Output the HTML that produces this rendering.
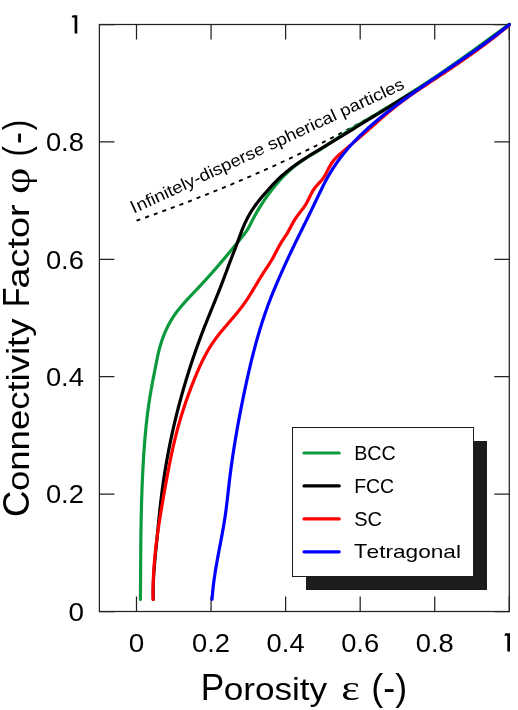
<!DOCTYPE html>
<html><head><meta charset="utf-8"><title>chart</title>
<style>
html,body{margin:0;padding:0;background:#fff;}
body{width:518px;height:710px;position:relative;overflow:hidden;}
.t{font-family:"Liberation Sans",sans-serif;fill:#000;}
.s{font-family:"Liberation Serif",serif;fill:#000;}
</style></head><body>
<svg width="518" height="710" viewBox="0 0 518 710" style="position:absolute;left:0;top:0;will-change:transform">
<rect width="518" height="710" fill="#fff"/>
<g stroke="#222" stroke-width="1.25" fill="none" stroke-linecap="butt">
<rect x="99.40" y="24.50" width="409.90" height="587.00"/>
<path d="M136.50,24.50 v15 M136.50,611.50 v-15"/>
<path d="M211.06,24.50 v15 M211.06,611.50 v-15"/>
<path d="M285.62,24.50 v15 M285.62,611.50 v-15"/>
<path d="M360.18,24.50 v15 M360.18,611.50 v-15"/>
<path d="M434.74,24.50 v15 M434.74,611.50 v-15"/>
<path d="M509.30,24.50 v15 M509.30,611.50 v-15"/>
<path d="M99.40,611.50 h15 M509.30,611.50 h-15"/>
<path d="M99.40,494.10 h15 M509.30,494.10 h-15"/>
<path d="M99.40,376.70 h15 M509.30,376.70 h-15"/>
<path d="M99.40,259.30 h15 M509.30,259.30 h-15"/>
<path d="M99.40,141.90 h15 M509.30,141.90 h-15"/>
<path d="M99.40,24.50 h15 M509.30,24.50 h-15"/>
</g>
<path d="M136.50,220.17 C139.61,219.06 148.93,215.78 155.14,213.53 C161.35,211.28 167.57,209.00 173.78,206.67 C179.99,204.35 186.21,201.98 192.42,199.57 C198.63,197.16 204.85,194.71 211.06,192.21 C217.27,189.72 223.49,187.18 229.70,184.59 C235.91,182.00 242.13,179.37 248.34,176.69 C254.55,174.00 260.77,171.27 266.98,168.48 C273.19,165.69 279.41,162.86 285.62,159.96 C291.83,157.07 298.05,154.12 304.26,151.11 C310.47,148.10 316.69,145.03 322.90,141.90 C329.11,138.77 335.33,135.58 341.54,132.32 C347.75,129.06 353.97,125.73 360.18,122.33 C366.39,118.93 372.61,115.47 378.82,111.93 C385.03,108.38 391.25,104.77 397.46,101.07 C403.67,97.36 409.89,93.59 416.10,89.72 C422.31,85.86 428.53,81.91 434.74,77.86 C440.95,73.82 447.17,69.69 453.38,65.45 C459.59,61.22 465.81,56.89 472.02,52.45 C478.23,48.01 484.45,43.48 490.66,38.82 C496.87,34.16 506.19,26.89 509.30,24.50" fill="none" stroke="#000" stroke-width="1.9" stroke-dasharray="4.05 5.1" transform="translate(0,0.5)"/>
<path d="M140.42,599.50 L140.43,598.02 L140.44,596.54 L140.45,595.06 L140.46,593.58 L140.47,592.10 L140.48,590.62 L140.49,589.14 L140.50,587.66 L140.51,586.18 L140.52,584.70 L140.53,583.21 L140.54,581.73 L140.55,580.25 L140.56,578.77 L140.57,577.29 L140.58,575.81 L140.59,574.33 L140.60,572.85 L140.61,571.37 L140.61,569.89 L140.62,568.41 L140.63,566.93 L140.64,565.45 L140.65,563.96 L140.66,562.48 L140.67,561.00 L140.68,559.52 L140.69,558.04 L140.71,556.56 L140.72,555.08 L140.73,553.60 L140.74,552.12 L140.75,550.64 L140.77,549.16 L140.78,547.68 L140.80,546.19 L140.81,544.71 L140.83,543.23 L140.84,541.75 L140.86,540.27 L140.88,538.79 L140.89,537.31 L140.91,535.83 L140.93,534.35 L140.95,532.87 L140.97,531.39 L140.99,529.91 L141.02,528.43 L141.04,526.95 L141.06,525.47 L141.09,523.98 L141.11,522.50 L141.14,521.02 L141.17,519.54 L141.20,518.06 L141.23,516.58 L141.26,515.10 L141.29,513.62 L141.33,512.14 L141.36,510.66 L141.40,509.18 L141.43,507.70 L141.47,506.22 L141.51,504.74 L141.55,503.26 L141.59,501.78 L141.63,500.30 L141.68,498.82 L141.72,497.34 L141.77,495.86 L141.82,494.38 L141.87,492.90 L141.92,491.42 L141.98,489.94 L142.03,488.47 L142.09,486.99 L142.14,485.51 L142.20,484.03 L142.26,482.55 L142.33,481.07 L142.39,479.59 L142.46,478.11 L142.52,476.63 L142.59,475.15 L142.67,473.68 L142.74,472.20 L142.81,470.72 L142.89,469.24 L142.97,467.76 L143.05,466.28 L143.13,464.81 L143.22,463.33 L143.30,461.85 L143.39,460.37 L143.48,458.89 L143.58,457.42 L143.67,455.94 L143.77,454.46 L143.87,452.98 L143.97,451.51 L144.07,450.03 L144.18,448.55 L144.29,447.07 L144.40,445.60 L144.51,444.12 L144.62,442.64 L144.74,441.17 L144.86,439.69 L144.99,438.21 L145.11,436.74 L145.24,435.26 L145.37,433.79 L145.51,432.31 L145.65,430.84 L145.79,429.36 L145.93,427.89 L146.08,426.42 L146.23,424.94 L146.39,423.47 L146.55,422.00 L146.71,420.52 L146.88,419.05 L147.05,417.58 L147.22,416.11 L147.40,414.64 L147.58,413.17 L147.77,411.70 L147.96,410.24 L148.16,408.77 L148.36,407.30 L148.56,405.83 L148.77,404.37 L148.99,402.90 L149.21,401.44 L149.43,399.98 L149.66,398.51 L149.89,397.05 L150.13,395.59 L150.38,394.13 L150.63,392.67 L150.88,391.21 L151.14,389.76 L151.40,388.30 L151.67,386.84 L151.93,385.39 L152.21,383.93 L152.48,382.48 L152.76,381.02 L153.04,379.57 L153.32,378.11 L153.60,376.66 L153.88,375.21 L154.17,373.75 L154.45,372.30 L154.74,370.85 L155.02,369.40 L155.31,367.94 L155.60,366.49 L155.88,365.04 L156.17,363.59 L156.45,362.14 L156.74,360.69 L157.03,359.24 L157.32,357.79 L157.62,356.34 L157.94,354.89 L158.26,353.45 L158.60,352.00 L158.96,350.56 L159.33,349.13 L159.71,347.69 L160.12,346.26 L160.53,344.84 L160.97,343.42 L161.42,342.00 L161.89,340.59 L162.37,339.18 L162.87,337.79 L163.39,336.40 L163.93,335.01 L164.48,333.64 L165.05,332.27 L165.64,330.91 L166.25,329.56 L166.88,328.22 L167.53,326.89 L168.19,325.57 L168.88,324.26 L169.58,322.97 L170.30,321.68 L171.05,320.41 L171.81,319.15 L172.59,317.90 L173.40,316.67 L174.22,315.45 L175.06,314.24 L175.92,313.04 L176.80,311.86 L177.70,310.69 L178.61,309.53 L179.53,308.37 L180.47,307.23 L181.42,306.10 L182.38,304.97 L183.35,303.85 L184.33,302.74 L185.32,301.63 L186.32,300.53 L187.32,299.43 L188.33,298.34 L189.35,297.25 L190.37,296.17 L191.39,295.09 L192.42,294.01 L193.45,292.93 L194.47,291.85 L195.50,290.77 L196.53,289.69 L197.55,288.61 L198.57,287.53 L199.59,286.45 L200.60,285.36 L201.61,284.28 L202.62,283.19 L203.62,282.10 L204.62,281.01 L205.62,279.91 L206.61,278.82 L207.61,277.72 L208.60,276.62 L209.58,275.52 L210.57,274.42 L211.55,273.31 L212.53,272.21 L213.50,271.10 L214.48,269.99 L215.45,268.88 L216.42,267.76 L217.39,266.65 L218.35,265.53 L219.31,264.41 L220.27,263.29 L221.23,262.16 L222.19,261.04 L223.15,259.91 L224.10,258.78 L225.05,257.64 L226.00,256.51 L226.95,255.37 L227.90,254.24 L228.84,253.10 L229.78,251.95 L230.73,250.81 L231.67,249.66 L232.61,248.52 L233.55,247.37 L234.48,246.22 L235.42,245.07 L236.36,243.92 L237.29,242.77 L238.22,241.62 L239.16,240.47 L240.09,239.31 L241.02,238.16 L241.95,237.01 L242.88,235.86 L243.80,234.70 L244.71,233.53 L245.60,232.35 L246.45,231.15 L247.27,229.93 L248.05,228.67 L248.78,227.39 L249.48,226.08 L250.15,224.76 L250.82,223.43 L251.48,222.10 L252.15,220.78 L252.82,219.46 L253.51,218.15 L254.20,216.84 L254.91,215.54 L255.62,214.24 L256.34,212.96 L257.08,211.67 L257.83,210.39 L258.58,209.12 L259.35,207.86 L260.13,206.60 L260.92,205.34 L261.71,204.09 L262.52,202.85 L263.34,201.62 L264.17,200.39 L265.00,199.16 L265.85,197.95 L266.70,196.74 L267.57,195.53 L268.44,194.33 L269.32,193.14 L270.21,191.96 L271.11,190.78 L272.02,189.61 L272.93,188.44 L273.86,187.29 L274.79,186.14 L275.73,184.99 L276.68,183.86 L277.64,182.73 L278.61,181.61 L279.59,180.51 L280.58,179.41 L281.58,178.32 L282.59,177.24 L283.62,176.17 L284.65,175.12 L285.69,174.08 L286.75,173.04 L287.82,172.02 L288.90,171.02 L290.00,170.02 L291.11,169.04 L292.23,168.08 L293.36,167.13 L294.51,166.19 L295.67,165.27 L296.85,164.37 L298.04,163.48 L299.24,162.60 L300.46,161.75 L301.69,160.91 L302.92,160.08 L304.17,159.28 L305.43,158.48 L306.69,157.71 L307.95,156.94 L309.22,156.19 L310.50,155.43 L311.77,154.68 L313.04,153.93 L314.31,153.18 L315.58,152.42 L316.84,151.65 L318.09,150.87 L319.35,150.08 L320.59,149.29 L321.84,148.49 L323.08,147.69 L324.32,146.88 L325.56,146.07 L326.79,145.25 L328.02,144.43 L329.26,143.60 L330.49,142.78 L331.72,141.95 L332.95,141.12 L334.17,140.29 L335.40,139.47 L336.63,138.64 L337.86,137.81 L339.10,136.99 L340.33,136.17 L341.56,135.35 L342.80,134.53 L344.04,133.72 L345.28,132.91 L346.53,132.11 L347.78,131.32 L349.03,130.53 L350.29,129.74 L351.55,128.96 L352.81,128.18 L354.07,127.41 L355.34,126.64 L356.60,125.88 L357.87,125.11 L359.14,124.35 L360.41,123.59 L361.69,122.84 L362.96,122.08 L364.23,121.33 L365.51,120.57 L366.78,119.82 L368.06,119.06 L369.33,118.31 L370.60,117.55 L371.88,116.80 L373.15,116.04 L374.42,115.28 L375.69,114.52 L376.96,113.76 L378.23,113.00 L379.50,112.24 L380.77,111.48 L382.04,110.72 L383.30,109.95 L384.57,109.18 L385.84,108.42 L387.10,107.65 L388.37,106.88 L389.63,106.11 L390.89,105.34 L392.16,104.56 L393.42,103.79 L394.68,103.02 L395.94,102.24 L397.20,101.46 L398.46,100.68 L399.71,99.90 L400.97,99.12 L402.23,98.34 L403.48,97.55 L404.73,96.77 L405.99,95.98 L407.24,95.19 L408.49,94.40 L409.74,93.61 L410.99,92.82 L412.24,92.02 L413.49,91.23 L414.73,90.43 L415.98,89.63 L417.22,88.83 L418.47,88.03 L419.71,87.23 L420.95,86.42 L422.19,85.62 L423.43,84.81 L424.67,84.00 L425.91,83.19 L427.15,82.37 L428.38,81.56 L429.62,80.74 L430.85,79.92 L432.08,79.10 L433.31,78.28 L434.54,77.46 L435.77,76.63 L437.00,75.81 L438.22,74.98 L439.45,74.15 L440.67,73.32 L441.89,72.48 L443.12,71.65 L444.34,70.81 L445.56,69.97 L446.78,69.13 L447.99,68.29 L449.21,67.45 L450.43,66.60 L451.64,65.75 L452.86,64.91 L454.07,64.06 L455.28,63.21 L456.49,62.36 L457.70,61.51 L458.91,60.65 L460.12,59.80 L461.33,58.94 L462.54,58.08 L463.75,57.23 L464.95,56.37 L466.16,55.51 L467.36,54.65 L468.57,53.79 L469.77,52.92 L470.97,52.06 L472.18,51.20 L473.38,50.33 L474.58,49.46 L475.78,48.60 L476.98,47.73 L478.18,46.86 L479.38,46.00 L480.58,45.13 L481.78,44.26 L482.98,43.39 L484.18,42.52 L485.38,41.65 L486.57,40.78 L487.77,39.90 L488.97,39.03 L490.16,38.16 L491.36,37.29 L492.56,36.41 L493.75,35.54 L494.95,34.67 L496.14,33.80 L497.34,32.92 L498.54,32.05 L499.73,31.18 L500.93,30.30 L502.12,29.43 L503.32,28.56 L504.51,27.69 L505.71,26.81 L506.90,25.94 L508.10,25.07 L509.29,24.20" fill="none" stroke="#0b9a3c" stroke-width="3.2" stroke-linecap="round" stroke-linejoin="round"/>
<path d="M153.28,599.30 L153.24,597.85 L153.21,596.39 L153.20,594.94 L153.19,593.49 L153.19,592.04 L153.20,590.59 L153.21,589.14 L153.24,587.69 L153.27,586.24 L153.31,584.79 L153.36,583.34 L153.41,581.89 L153.47,580.44 L153.54,579.00 L153.61,577.55 L153.69,576.10 L153.78,574.65 L153.87,573.21 L153.96,571.76 L154.06,570.31 L154.17,568.87 L154.28,567.42 L154.39,565.97 L154.51,564.53 L154.63,563.08 L154.75,561.64 L154.88,560.19 L155.01,558.74 L155.14,557.30 L155.28,555.85 L155.42,554.41 L155.56,552.96 L155.70,551.52 L155.84,550.08 L155.98,548.63 L156.13,547.19 L156.27,545.74 L156.41,544.30 L156.56,542.85 L156.70,541.41 L156.85,539.97 L156.99,538.52 L157.13,537.08 L157.28,535.63 L157.42,534.19 L157.56,532.74 L157.70,531.30 L157.84,529.86 L157.99,528.41 L158.13,526.97 L158.27,525.53 L158.42,524.08 L158.56,522.64 L158.70,521.20 L158.85,519.75 L159.00,518.31 L159.14,516.87 L159.29,515.43 L159.44,513.98 L159.60,512.54 L159.75,511.10 L159.90,509.66 L160.06,508.22 L160.22,506.78 L160.38,505.33 L160.54,503.89 L160.71,502.45 L160.87,501.01 L161.04,499.57 L161.21,498.13 L161.39,496.70 L161.56,495.26 L161.74,493.82 L161.93,492.38 L162.11,490.94 L162.30,489.50 L162.49,488.07 L162.69,486.63 L162.89,485.19 L163.09,483.76 L163.29,482.32 L163.50,480.89 L163.71,479.45 L163.92,478.02 L164.14,476.58 L164.36,475.15 L164.58,473.72 L164.81,472.28 L165.04,470.85 L165.27,469.42 L165.51,467.99 L165.75,466.56 L165.99,465.13 L166.24,463.70 L166.48,462.27 L166.74,460.84 L166.99,459.41 L167.25,457.98 L167.51,456.56 L167.77,455.13 L168.04,453.70 L168.31,452.28 L168.58,450.85 L168.86,449.43 L169.13,448.00 L169.42,446.58 L169.70,445.16 L169.99,443.73 L170.28,442.31 L170.57,440.89 L170.87,439.47 L171.17,438.05 L171.47,436.63 L171.78,435.21 L172.09,433.79 L172.40,432.38 L172.72,430.96 L173.03,429.54 L173.35,428.13 L173.68,426.71 L174.00,425.30 L174.33,423.89 L174.67,422.47 L175.00,421.06 L175.34,419.65 L175.68,418.24 L176.02,416.83 L176.37,415.42 L176.72,414.01 L177.07,412.60 L177.43,411.20 L177.79,409.79 L178.15,408.38 L178.51,406.98 L178.88,405.58 L179.25,404.17 L179.62,402.77 L180.00,401.37 L180.38,399.97 L180.76,398.57 L181.14,397.17 L181.53,395.77 L181.92,394.37 L182.31,392.98 L182.71,391.58 L183.11,390.19 L183.51,388.79 L183.91,387.40 L184.32,386.01 L184.73,384.62 L185.14,383.22 L185.55,381.84 L185.97,380.45 L186.39,379.06 L186.82,377.67 L187.24,376.29 L187.67,374.90 L188.10,373.52 L188.54,372.13 L188.97,370.75 L189.41,369.37 L189.86,367.99 L190.30,366.61 L190.75,365.23 L191.20,363.86 L191.65,362.48 L192.11,361.10 L192.57,359.73 L193.03,358.35 L193.50,356.98 L193.96,355.61 L194.44,354.24 L194.91,352.87 L195.39,351.50 L195.86,350.13 L196.35,348.77 L196.83,347.40 L197.32,346.03 L197.81,344.67 L198.30,343.31 L198.80,341.95 L199.30,340.58 L199.80,339.22 L200.31,337.87 L200.81,336.51 L201.33,335.15 L201.84,333.79 L202.36,332.44 L202.88,331.08 L203.40,329.73 L203.92,328.38 L204.45,327.03 L204.98,325.68 L205.52,324.33 L206.05,322.98 L206.59,321.63 L207.13,320.28 L207.67,318.94 L208.21,317.59 L208.76,316.25 L209.30,314.90 L209.85,313.56 L210.39,312.21 L210.94,310.87 L211.49,309.52 L212.04,308.18 L212.59,306.83 L213.13,305.49 L213.68,304.14 L214.23,302.80 L214.78,301.45 L215.32,300.11 L215.87,298.76 L216.41,297.42 L216.95,296.07 L217.49,294.72 L218.03,293.37 L218.57,292.03 L219.10,290.68 L219.63,289.33 L220.16,287.97 L220.69,286.62 L221.22,285.27 L221.74,283.92 L222.25,282.56 L222.77,281.20 L223.28,279.85 L223.79,278.49 L224.30,277.13 L224.81,275.77 L225.31,274.41 L225.82,273.05 L226.32,271.69 L226.83,270.33 L227.33,268.97 L227.84,267.61 L228.34,266.26 L228.85,264.90 L229.36,263.54 L229.88,262.19 L230.39,260.83 L230.91,259.48 L231.44,258.13 L231.96,256.78 L232.49,255.43 L233.02,254.08 L233.54,252.73 L234.07,251.38 L234.60,250.02 L235.12,248.67 L235.64,247.32 L236.15,245.96 L236.66,244.60 L237.17,243.24 L237.67,241.88 L238.16,240.52 L238.66,239.15 L239.15,237.79 L239.65,236.42 L240.15,235.06 L240.66,233.70 L241.17,232.34 L241.69,230.99 L242.22,229.64 L242.77,228.29 L243.32,226.95 L243.89,225.61 L244.48,224.28 L245.08,222.96 L245.69,221.64 L246.32,220.34 L246.96,219.04 L247.62,217.75 L248.30,216.47 L249.00,215.20 L249.71,213.94 L250.45,212.70 L251.20,211.46 L251.97,210.24 L252.77,209.03 L253.58,207.83 L254.40,206.64 L255.25,205.46 L256.10,204.29 L256.98,203.13 L257.86,201.98 L258.76,200.84 L259.67,199.71 L260.59,198.58 L261.51,197.46 L262.45,196.34 L263.39,195.23 L264.34,194.13 L265.30,193.03 L266.26,191.94 L267.22,190.85 L268.19,189.76 L269.16,188.68 L270.13,187.60 L271.11,186.53 L272.10,185.46 L273.09,184.40 L274.09,183.35 L275.10,182.31 L276.12,181.28 L277.15,180.26 L278.18,179.24 L279.23,178.24 L280.28,177.26 L281.35,176.28 L282.43,175.31 L283.52,174.36 L284.62,173.42 L285.73,172.49 L286.84,171.57 L287.97,170.66 L289.11,169.76 L290.25,168.87 L291.40,167.99 L292.56,167.11 L293.73,166.25 L294.90,165.40 L296.08,164.55 L297.26,163.71 L298.45,162.88 L299.65,162.06 L300.85,161.25 L302.06,160.44 L303.27,159.64 L304.48,158.84 L305.70,158.05 L306.92,157.27 L308.15,156.49 L309.38,155.71 L310.61,154.95 L311.84,154.18 L313.07,153.42 L314.31,152.66 L315.55,151.90 L316.78,151.15 L318.02,150.40 L319.26,149.65 L320.50,148.90 L321.75,148.15 L322.99,147.40 L324.23,146.65 L325.47,145.90 L326.71,145.15 L327.95,144.39 L329.19,143.64 L330.43,142.89 L331.67,142.14 L332.91,141.38 L334.15,140.63 L335.39,139.87 L336.62,139.12 L337.86,138.36 L339.10,137.61 L340.34,136.85 L341.58,136.09 L342.81,135.34 L344.05,134.58 L345.29,133.82 L346.53,133.07 L347.76,132.31 L349.00,131.55 L350.24,130.79 L351.47,130.03 L352.71,129.27 L353.95,128.52 L355.18,127.76 L356.42,127.00 L357.66,126.24 L358.89,125.48 L360.13,124.72 L361.36,123.96 L362.60,123.20 L363.84,122.44 L365.07,121.68 L366.31,120.92 L367.54,120.16 L368.78,119.40 L370.02,118.64 L371.25,117.88 L372.49,117.12 L373.72,116.36 L374.96,115.60 L376.19,114.84 L377.43,114.08 L378.67,113.32 L379.90,112.56 L381.14,111.80 L382.38,111.04 L383.61,110.28 L384.85,109.52 L386.08,108.77 L387.32,108.01 L388.56,107.25 L389.79,106.49 L391.03,105.73 L392.27,104.98 L393.51,104.22 L394.74,103.46 L395.98,102.71 L397.22,101.95 L398.45,101.20 L399.69,100.44 L400.93,99.68 L402.17,98.93 L403.40,98.17 L404.64,97.41 L405.88,96.65 L407.11,95.90 L408.35,95.14 L409.58,94.38 L410.82,93.62 L412.05,92.86 L413.29,92.10 L414.52,91.33 L415.75,90.57 L416.98,89.80 L418.21,89.04 L419.44,88.27 L420.67,87.50 L421.90,86.73 L423.13,85.96 L424.36,85.19 L425.58,84.41 L426.81,83.64 L428.03,82.86 L429.25,82.08 L430.47,81.30 L431.69,80.51 L432.91,79.73 L434.13,78.94 L435.34,78.15 L436.56,77.36 L437.77,76.56 L438.98,75.77 L440.19,74.97 L441.40,74.16 L442.61,73.36 L443.82,72.55 L445.02,71.75 L446.23,70.94 L447.43,70.12 L448.63,69.31 L449.83,68.49 L451.03,67.67 L452.22,66.85 L453.42,66.03 L454.61,65.21 L455.81,64.38 L457.00,63.55 L458.19,62.72 L459.38,61.89 L460.57,61.06 L461.75,60.22 L462.94,59.38 L464.12,58.54 L465.30,57.70 L466.48,56.86 L467.66,56.01 L468.84,55.16 L470.02,54.32 L471.20,53.47 L472.37,52.61 L473.55,51.76 L474.72,50.90 L475.89,50.05 L477.06,49.19 L478.23,48.33 L479.40,47.47 L480.56,46.60 L481.73,45.74 L482.89,44.87 L484.06,44.01 L485.22,43.14 L486.38,42.27 L487.54,41.39 L488.70,40.52 L489.85,39.65 L491.01,38.77 L492.17,37.89 L493.32,37.01 L494.47,36.13 L495.62,35.25 L496.77,34.37 L497.92,33.48 L499.07,32.60 L500.22,31.71 L501.36,30.82 L502.51,29.94 L503.65,29.05 L504.79,28.15 L505.94,27.26 L507.08,26.37 L508.21,25.47 L509.35,24.58" fill="none" stroke="#000" stroke-width="3.2" stroke-linecap="round" stroke-linejoin="round"/>
<path d="M153.08,599.52 L153.06,598.09 L153.04,596.67 L153.03,595.24 L153.02,593.82 L153.02,592.40 L153.03,590.97 L153.04,589.55 L153.06,588.13 L153.09,586.71 L153.12,585.29 L153.16,583.87 L153.20,582.45 L153.25,581.03 L153.30,579.61 L153.36,578.20 L153.42,576.78 L153.49,575.36 L153.57,573.95 L153.65,572.53 L153.73,571.12 L153.82,569.70 L153.92,568.29 L154.02,566.87 L154.12,565.46 L154.23,564.05 L154.35,562.64 L154.46,561.23 L154.59,559.81 L154.71,558.40 L154.85,556.99 L154.98,555.58 L155.12,554.17 L155.27,552.77 L155.41,551.36 L155.57,549.95 L155.72,548.54 L155.88,547.13 L156.04,545.73 L156.21,544.32 L156.38,542.91 L156.56,541.51 L156.73,540.10 L156.91,538.70 L157.10,537.29 L157.28,535.89 L157.48,534.48 L157.67,533.08 L157.86,531.68 L158.06,530.27 L158.27,528.87 L158.47,527.47 L158.68,526.06 L158.89,524.66 L159.10,523.26 L159.31,521.86 L159.53,520.46 L159.75,519.06 L159.97,517.65 L160.19,516.25 L160.42,514.85 L160.65,513.45 L160.88,512.05 L161.11,510.65 L161.34,509.25 L161.58,507.85 L161.81,506.45 L162.05,505.05 L162.29,503.65 L162.53,502.26 L162.77,500.86 L163.01,499.46 L163.26,498.06 L163.50,496.66 L163.75,495.26 L163.99,493.86 L164.24,492.46 L164.49,491.07 L164.74,489.67 L164.99,488.27 L165.24,486.87 L165.49,485.47 L165.74,484.08 L166.00,482.68 L166.25,481.28 L166.51,479.89 L166.76,478.49 L167.02,477.09 L167.28,475.70 L167.54,474.30 L167.80,472.91 L168.07,471.51 L168.33,470.12 L168.60,468.72 L168.87,467.33 L169.15,465.94 L169.42,464.54 L169.70,463.15 L169.98,461.76 L170.26,460.37 L170.54,458.98 L170.83,457.59 L171.12,456.20 L171.41,454.82 L171.71,453.43 L172.01,452.04 L172.31,450.66 L172.62,449.27 L172.92,447.89 L173.24,446.51 L173.55,445.13 L173.87,443.75 L174.19,442.37 L174.52,440.99 L174.85,439.61 L175.19,438.24 L175.53,436.86 L175.87,435.49 L176.22,434.12 L176.57,432.75 L176.93,431.38 L177.29,430.01 L177.65,428.64 L178.02,427.27 L178.40,425.91 L178.78,424.55 L179.16,423.18 L179.55,421.82 L179.95,420.46 L180.35,419.11 L180.75,417.75 L181.16,416.40 L181.58,415.04 L182.00,413.69 L182.42,412.34 L182.85,410.99 L183.28,409.64 L183.72,408.29 L184.16,406.95 L184.61,405.60 L185.06,404.26 L185.51,402.92 L185.97,401.58 L186.44,400.24 L186.91,398.90 L187.38,397.57 L187.86,396.23 L188.34,394.90 L188.83,393.56 L189.32,392.23 L189.81,390.90 L190.31,389.57 L190.81,388.24 L191.32,386.92 L191.83,385.59 L192.35,384.27 L192.87,382.95 L193.39,381.62 L193.92,380.30 L194.45,378.98 L194.98,377.67 L195.52,376.35 L196.07,375.04 L196.62,373.72 L197.18,372.41 L197.74,371.11 L198.30,369.80 L198.88,368.50 L199.46,367.20 L200.05,365.91 L200.64,364.62 L201.25,363.33 L201.86,362.05 L202.48,360.78 L203.11,359.51 L203.75,358.24 L204.40,356.98 L205.05,355.73 L205.72,354.48 L206.40,353.24 L207.09,352.00 L207.79,350.77 L208.50,349.55 L209.22,348.34 L209.96,347.13 L210.71,345.94 L211.47,344.75 L212.24,343.57 L213.03,342.39 L213.83,341.23 L214.65,340.08 L215.47,338.93 L216.32,337.80 L217.17,336.67 L218.03,335.55 L218.91,334.43 L219.79,333.32 L220.68,332.22 L221.58,331.12 L222.49,330.03 L223.40,328.94 L224.31,327.85 L225.24,326.77 L226.16,325.68 L227.09,324.60 L228.02,323.53 L228.95,322.45 L229.88,321.37 L230.81,320.29 L231.74,319.21 L232.67,318.13 L233.59,317.05 L234.51,315.96 L235.43,314.87 L236.34,313.78 L237.24,312.68 L238.14,311.58 L239.02,310.48 L239.90,309.36 L240.77,308.24 L241.63,307.12 L242.48,305.98 L243.32,304.84 L244.14,303.69 L244.96,302.53 L245.76,301.37 L246.55,300.20 L247.33,299.02 L248.10,297.83 L248.87,296.64 L249.63,295.45 L250.38,294.25 L251.12,293.04 L251.87,291.84 L252.60,290.63 L253.34,289.41 L254.07,288.20 L254.79,286.98 L255.52,285.76 L256.25,284.55 L256.97,283.33 L257.70,282.11 L258.43,280.89 L259.16,279.68 L259.90,278.47 L260.64,277.26 L261.38,276.05 L262.13,274.84 L262.89,273.64 L263.65,272.45 L264.42,271.25 L265.20,270.07 L265.98,268.88 L266.77,267.70 L267.55,266.52 L268.33,265.33 L269.11,264.14 L269.88,262.95 L270.63,261.75 L271.37,260.54 L272.10,259.33 L272.80,258.10 L273.50,256.86 L274.17,255.61 L274.84,254.36 L275.50,253.10 L276.15,251.84 L276.81,250.58 L277.46,249.32 L278.12,248.07 L278.79,246.82 L279.47,245.57 L280.17,244.34 L280.88,243.11 L281.61,241.90 L282.37,240.70 L283.15,239.52 L283.93,238.34 L284.72,237.16 L285.51,235.98 L286.28,234.78 L287.02,233.58 L287.75,232.36 L288.45,231.13 L289.13,229.88 L289.80,228.63 L290.47,227.38 L291.13,226.12 L291.80,224.87 L292.47,223.62 L293.16,222.38 L293.87,221.15 L294.60,219.94 L295.35,218.74 L296.14,217.56 L296.95,216.40 L297.79,215.26 L298.65,214.13 L299.51,213.00 L300.38,211.87 L301.25,210.75 L302.11,209.62 L302.97,208.49 L303.80,207.34 L304.61,206.18 L305.39,205.00 L306.14,203.79 L306.84,202.56 L307.51,201.31 L308.16,200.04 L308.78,198.76 L309.40,197.47 L310.01,196.19 L310.64,194.91 L311.28,193.64 L311.95,192.39 L312.66,191.17 L313.41,189.97 L314.21,188.81 L315.05,187.67 L315.93,186.57 L316.85,185.49 L317.80,184.43 L318.77,183.39 L319.74,182.36 L320.69,181.32 L321.62,180.26 L322.50,179.16 L323.32,178.03 L324.09,176.85 L324.82,175.65 L325.51,174.42 L326.19,173.17 L326.84,171.90 L327.49,170.63 L328.15,169.36 L328.81,168.10 L329.49,166.84 L330.20,165.60 L330.93,164.37 L331.69,163.18 L332.50,162.01 L333.35,160.88 L334.24,159.78 L335.18,158.73 L336.15,157.70 L337.15,156.70 L338.18,155.72 L339.23,154.76 L340.30,153.82 L341.37,152.88 L342.44,151.95 L343.52,151.02 L344.59,150.10 L345.68,149.18 L346.76,148.26 L347.84,147.35 L348.93,146.44 L350.01,145.53 L351.10,144.62 L352.18,143.71 L353.27,142.80 L354.35,141.89 L355.44,140.97 L356.52,140.06 L357.60,139.14 L358.68,138.22 L359.75,137.30 L360.82,136.37 L361.90,135.44 L362.97,134.51 L364.04,133.58 L365.10,132.65 L366.17,131.71 L367.23,130.77 L368.30,129.84 L369.36,128.90 L370.43,127.96 L371.49,127.02 L372.56,126.08 L373.62,125.14 L374.69,124.20 L375.75,123.26 L376.82,122.32 L377.88,121.38 L378.95,120.45 L380.02,119.52 L381.09,118.58 L382.16,117.65 L383.24,116.73 L384.31,115.80 L385.39,114.88 L386.47,113.96 L387.56,113.05 L388.64,112.13 L389.73,111.23 L390.82,110.32 L391.92,109.42 L393.02,108.53 L394.12,107.64 L395.23,106.75 L396.34,105.87 L397.45,105.00 L398.57,104.13 L399.70,103.27 L400.83,102.41 L401.96,101.56 L403.09,100.71 L404.23,99.87 L405.38,99.03 L406.53,98.20 L407.68,97.38 L408.83,96.55 L409.99,95.74 L411.15,94.92 L412.31,94.11 L413.48,93.30 L414.65,92.50 L415.82,91.70 L416.99,90.90 L418.16,90.10 L419.34,89.31 L420.52,88.52 L421.70,87.73 L422.88,86.94 L424.06,86.16 L425.24,85.37 L426.43,84.59 L427.61,83.81 L428.80,83.02 L429.98,82.24 L431.17,81.46 L432.35,80.68 L433.54,79.90 L434.72,79.12 L435.91,78.34 L437.09,77.55 L438.28,76.77 L439.46,75.99 L440.64,75.20 L441.83,74.42 L443.01,73.63 L444.19,72.84 L445.37,72.05 L446.55,71.26 L447.73,70.47 L448.90,69.68 L450.08,68.89 L451.26,68.10 L452.43,67.30 L453.61,66.50 L454.78,65.71 L455.95,64.91 L457.12,64.11 L458.29,63.31 L459.46,62.50 L460.63,61.70 L461.80,60.89 L462.96,60.08 L464.13,59.28 L465.29,58.46 L466.45,57.65 L467.61,56.84 L468.77,56.02 L469.93,55.20 L471.09,54.38 L472.24,53.56 L473.39,52.73 L474.55,51.91 L475.70,51.08 L476.84,50.25 L477.99,49.42 L479.14,48.58 L480.28,47.74 L481.42,46.90 L482.56,46.06 L483.70,45.22 L484.84,44.37 L485.97,43.52 L487.11,42.67 L488.24,41.81 L489.37,40.96 L490.49,40.10 L491.62,39.24 L492.74,38.37 L493.86,37.50 L494.98,36.63 L496.10,35.76 L497.22,34.88 L498.33,34.00 L499.44,33.12 L500.55,32.23 L501.65,31.34 L502.76,30.45 L503.86,29.56 L504.96,28.66 L506.05,27.75 L507.15,26.85 L508.24,25.94 L509.33,25.03" fill="none" stroke="#ff0000" stroke-width="3.2" stroke-linecap="round" stroke-linejoin="round"/>
<path d="M212.02,599.50 L212.12,598.14 L212.22,596.78 L212.33,595.42 L212.45,594.06 L212.57,592.70 L212.71,591.34 L212.85,589.99 L212.99,588.63 L213.14,587.27 L213.30,585.92 L213.46,584.57 L213.63,583.21 L213.81,581.86 L213.99,580.51 L214.18,579.16 L214.37,577.81 L214.56,576.46 L214.76,575.11 L214.97,573.76 L215.18,572.41 L215.39,571.07 L215.61,569.72 L215.83,568.37 L216.05,567.03 L216.28,565.68 L216.51,564.34 L216.75,562.99 L216.98,561.65 L217.22,560.31 L217.47,558.96 L217.71,557.62 L217.96,556.28 L218.20,554.94 L218.45,553.60 L218.70,552.26 L218.96,550.91 L219.21,549.57 L219.47,548.23 L219.72,546.89 L219.98,545.55 L220.23,544.21 L220.49,542.87 L220.74,541.53 L221.00,540.19 L221.26,538.85 L221.51,537.52 L221.76,536.18 L222.01,534.84 L222.26,533.49 L222.51,532.15 L222.75,530.81 L222.99,529.47 L223.23,528.13 L223.46,526.79 L223.69,525.44 L223.92,524.10 L224.14,522.76 L224.36,521.41 L224.57,520.06 L224.78,518.72 L224.98,517.37 L225.18,516.02 L225.37,514.67 L225.56,513.32 L225.75,511.97 L225.93,510.62 L226.10,509.26 L226.28,507.91 L226.45,506.56 L226.62,505.20 L226.78,503.85 L226.95,502.49 L227.11,501.14 L227.27,499.78 L227.42,498.43 L227.58,497.07 L227.74,495.72 L227.89,494.36 L228.04,493.00 L228.20,491.65 L228.35,490.29 L228.50,488.93 L228.66,487.58 L228.81,486.22 L228.97,484.87 L229.13,483.51 L229.28,482.16 L229.44,480.80 L229.61,479.45 L229.77,478.09 L229.94,476.74 L230.10,475.38 L230.27,474.03 L230.45,472.68 L230.62,471.32 L230.80,469.97 L230.98,468.62 L231.16,467.27 L231.34,465.92 L231.53,464.57 L231.72,463.22 L231.91,461.87 L232.10,460.52 L232.30,459.17 L232.49,457.82 L232.69,456.47 L232.89,455.12 L233.09,453.78 L233.30,452.43 L233.51,451.08 L233.72,449.73 L233.93,448.39 L234.14,447.04 L234.35,445.70 L234.57,444.35 L234.79,443.01 L235.01,441.66 L235.23,440.32 L235.45,438.97 L235.68,437.63 L235.91,436.29 L236.14,434.94 L236.37,433.60 L236.60,432.26 L236.84,430.91 L237.07,429.57 L237.31,428.23 L237.55,426.89 L237.79,425.55 L238.04,424.21 L238.28,422.87 L238.53,421.53 L238.78,420.19 L239.03,418.85 L239.28,417.51 L239.53,416.17 L239.79,414.83 L240.04,413.49 L240.30,412.15 L240.56,410.81 L240.82,409.47 L241.08,408.13 L241.35,406.80 L241.61,405.46 L241.88,404.12 L242.15,402.78 L242.42,401.45 L242.69,400.11 L242.96,398.77 L243.23,397.44 L243.51,396.10 L243.78,394.76 L244.06,393.43 L244.34,392.09 L244.62,390.76 L244.90,389.42 L245.19,388.09 L245.47,386.75 L245.76,385.42 L246.05,384.08 L246.34,382.75 L246.63,381.42 L246.92,380.08 L247.21,378.75 L247.51,377.42 L247.81,376.09 L248.11,374.75 L248.41,373.42 L248.72,372.09 L249.02,370.76 L249.33,369.43 L249.64,368.10 L249.95,366.77 L250.27,365.45 L250.59,364.12 L250.90,362.79 L251.23,361.47 L251.55,360.14 L251.88,358.81 L252.21,357.49 L252.54,356.17 L252.87,354.84 L253.21,353.52 L253.55,352.20 L253.89,350.88 L254.24,349.56 L254.59,348.24 L254.94,346.93 L255.29,345.61 L255.65,344.29 L256.01,342.98 L256.37,341.66 L256.74,340.35 L257.11,339.04 L257.48,337.73 L257.86,336.42 L258.24,335.11 L258.62,333.80 L259.01,332.49 L259.40,331.19 L259.79,329.88 L260.19,328.58 L260.59,327.27 L260.99,325.97 L261.40,324.67 L261.81,323.37 L262.23,322.08 L262.65,320.78 L263.07,319.48 L263.50,318.19 L263.93,316.90 L264.36,315.61 L264.80,314.32 L265.25,313.03 L265.69,311.74 L266.14,310.46 L266.60,309.17 L267.06,307.89 L267.53,306.61 L267.99,305.33 L268.47,304.05 L268.95,302.77 L269.43,301.50 L269.91,300.23 L270.40,298.95 L270.90,297.68 L271.40,296.41 L271.90,295.14 L272.40,293.88 L272.91,292.61 L273.43,291.35 L273.94,290.09 L274.46,288.82 L274.98,287.56 L275.51,286.30 L276.04,285.05 L276.57,283.79 L277.11,282.53 L277.64,281.28 L278.19,280.03 L278.73,278.78 L279.28,277.53 L279.82,276.28 L280.37,275.03 L280.93,273.78 L281.48,272.53 L282.04,271.29 L282.60,270.04 L283.17,268.80 L283.73,267.56 L284.30,266.32 L284.86,265.08 L285.43,263.84 L286.01,262.60 L286.58,261.36 L287.15,260.12 L287.73,258.89 L288.31,257.65 L288.88,256.42 L289.46,255.18 L290.05,253.95 L290.63,252.72 L291.21,251.49 L291.80,250.26 L292.38,249.03 L292.97,247.80 L293.56,246.57 L294.15,245.35 L294.74,244.12 L295.34,242.89 L295.93,241.67 L296.53,240.44 L297.12,239.22 L297.72,238.00 L298.32,236.78 L298.92,235.55 L299.52,234.33 L300.13,233.11 L300.73,231.89 L301.33,230.68 L301.94,229.46 L302.54,228.24 L303.15,227.02 L303.75,225.80 L304.35,224.58 L304.96,223.36 L305.56,222.14 L306.16,220.91 L306.76,219.69 L307.35,218.47 L307.95,217.25 L308.55,216.02 L309.14,214.80 L309.74,213.57 L310.33,212.35 L310.93,211.12 L311.52,209.90 L312.11,208.67 L312.71,207.44 L313.30,206.22 L313.89,204.99 L314.48,203.76 L315.07,202.53 L315.66,201.30 L316.26,200.07 L316.85,198.84 L317.44,197.62 L318.03,196.39 L318.62,195.16 L319.21,193.93 L319.80,192.70 L320.39,191.47 L320.99,190.24 L321.59,189.01 L322.19,187.78 L322.79,186.56 L323.40,185.34 L324.02,184.12 L324.64,182.90 L325.27,181.69 L325.91,180.49 L326.56,179.29 L327.22,178.09 L327.88,176.90 L328.56,175.71 L329.24,174.53 L329.94,173.36 L330.64,172.19 L331.35,171.03 L332.07,169.87 L332.80,168.72 L333.54,167.57 L334.28,166.43 L335.04,165.30 L335.80,164.17 L336.58,163.05 L337.36,161.93 L338.15,160.83 L338.95,159.72 L339.76,158.63 L340.57,157.54 L341.40,156.46 L342.24,155.39 L343.08,154.32 L343.93,153.26 L344.79,152.21 L345.66,151.16 L346.53,150.12 L347.42,149.08 L348.31,148.06 L349.21,147.04 L350.11,146.02 L351.02,145.01 L351.94,144.01 L352.87,143.01 L353.80,142.02 L354.74,141.03 L355.69,140.06 L356.64,139.08 L357.60,138.11 L358.57,137.15 L359.54,136.19 L360.52,135.24 L361.50,134.29 L362.49,133.35 L363.48,132.41 L364.48,131.48 L365.48,130.55 L366.49,129.63 L367.50,128.71 L368.52,127.80 L369.54,126.89 L370.56,125.99 L371.59,125.09 L372.63,124.19 L373.66,123.30 L374.71,122.41 L375.75,121.53 L376.80,120.65 L377.85,119.78 L378.90,118.91 L379.96,118.04 L381.02,117.17 L382.08,116.31 L383.15,115.45 L384.22,114.60 L385.29,113.75 L386.36,112.90 L387.43,112.06 L388.51,111.22 L389.59,110.38 L390.67,109.54 L391.75,108.71 L392.83,107.88 L393.92,107.05 L395.01,106.23 L396.10,105.41 L397.19,104.59 L398.28,103.77 L399.37,102.96 L400.47,102.15 L401.57,101.34 L402.67,100.53 L403.77,99.73 L404.87,98.92 L405.97,98.12 L407.08,97.33 L408.19,96.53 L409.29,95.74 L410.40,94.94 L411.51,94.15 L412.62,93.36 L413.74,92.58 L414.85,91.79 L415.97,91.01 L417.08,90.22 L418.20,89.44 L419.32,88.66 L420.43,87.89 L421.55,87.11 L422.67,86.33 L423.79,85.56 L424.92,84.79 L426.04,84.01 L427.16,83.24 L428.29,82.47 L429.41,81.70 L430.53,80.93 L431.66,80.16 L432.79,79.40 L433.91,78.63 L435.04,77.86 L436.16,77.10 L437.29,76.33 L438.42,75.57 L439.55,74.80 L440.68,74.04 L441.80,73.27 L442.93,72.51 L444.06,71.75 L445.19,70.98 L446.32,70.22 L447.44,69.45 L448.57,68.69 L449.70,67.93 L450.83,67.16 L451.96,66.40 L453.08,65.63 L454.21,64.86 L455.34,64.10 L456.46,63.33 L457.59,62.56 L458.71,61.79 L459.84,61.02 L460.96,60.25 L462.09,59.48 L463.21,58.71 L464.33,57.94 L465.45,57.17 L466.57,56.39 L467.69,55.61 L468.81,54.84 L469.93,54.06 L471.05,53.28 L472.17,52.50 L473.28,51.71 L474.40,50.93 L475.51,50.14 L476.62,49.35 L477.73,48.56 L478.85,47.77 L479.95,46.98 L481.06,46.19 L482.17,45.39 L483.27,44.59 L484.38,43.79 L485.48,42.98 L486.58,42.18 L487.68,41.37 L488.78,40.56 L489.87,39.75 L490.97,38.93 L492.06,38.12 L493.15,37.30 L494.24,36.47 L495.33,35.65 L496.42,34.82 L497.50,33.99 L498.58,33.16 L499.66,32.32 L500.74,31.48 L501.82,30.64 L502.89,29.79 L503.96,28.94 L505.03,28.09 L506.10,27.23 L507.17,26.38 L508.23,25.51 L509.29,24.65" fill="none" stroke="#0000ff" stroke-width="3.2" stroke-linecap="round" stroke-linejoin="round"/>
<rect x="306" y="441" width="181" height="149" fill="#1c1c1c"/>
<rect x="292.5" y="427.5" width="181" height="149" fill="#fff" stroke="#1c1c1c" stroke-width="1"/>
<path d="M304.0,453.00 H339.2" stroke="#0b9a3c" stroke-width="3.2" stroke-linecap="round"/>
<text class="t" font-size="21" textLength="41.60" lengthAdjust="spacingAndGlyphs" x="354.20" y="459.60">BCC</text>
<path d="M304.0,485.95 H339.2" stroke="#000" stroke-width="3.2" stroke-linecap="round"/>
<text class="t" font-size="21" textLength="40.00" lengthAdjust="spacingAndGlyphs" x="354.20" y="492.55">FCC</text>
<path d="M304.0,518.90 H339.2" stroke="#ff0000" stroke-width="3.2" stroke-linecap="round"/>
<text class="t" font-size="21" textLength="27.80" lengthAdjust="spacingAndGlyphs" x="354.20" y="525.50">SC</text>
<path d="M304.0,551.85 H339.2" stroke="#0000ff" stroke-width="3.2" stroke-linecap="round"/>
<text class="t" font-size="21" textLength="13.20" lengthAdjust="spacingAndGlyphs" x="353.90" y="558.45">T</text>
<text class="t" font-size="18.6" textLength="94.40" lengthAdjust="spacingAndGlyphs" x="366.60" y="558.45">etragonal</text>
<text class="t" font-size="25.7" textLength="15.50" lengthAdjust="spacingAndGlyphs" x="128.75" y="652.20">0</text>
<text class="t" font-size="25.7" textLength="38.00" lengthAdjust="spacingAndGlyphs" x="192.06" y="652.20">0.2</text>
<text class="t" font-size="25.7" textLength="38.00" lengthAdjust="spacingAndGlyphs" x="266.62" y="652.20">0.4</text>
<text class="t" font-size="25.7" textLength="38.00" lengthAdjust="spacingAndGlyphs" x="341.18" y="652.20">0.6</text>
<text class="t" font-size="25.7" textLength="38.00" lengthAdjust="spacingAndGlyphs" x="415.74" y="652.20">0.8</text>
<path d="M504.30,635.70 L505.30,633.30 L510.00,633.30 L510.00,651.60 L507.30,651.60 L507.30,635.70 Z" fill="#000"/>
<text class="t" font-size="25.7" textLength="15.50" lengthAdjust="spacingAndGlyphs" x="68.40" y="620.70">0</text>
<text class="t" font-size="25.7" textLength="38.00" lengthAdjust="spacingAndGlyphs" x="45.90" y="503.30">0.2</text>
<text class="t" font-size="25.7" textLength="38.00" lengthAdjust="spacingAndGlyphs" x="45.90" y="385.90">0.4</text>
<text class="t" font-size="25.7" textLength="38.00" lengthAdjust="spacingAndGlyphs" x="45.90" y="268.50">0.6</text>
<text class="t" font-size="25.7" textLength="38.00" lengthAdjust="spacingAndGlyphs" x="45.90" y="151.10">0.8</text>
<path d="M71.60,17.60 L72.60,15.20 L77.30,15.20 L77.30,33.50 L74.60,33.50 L74.60,17.60 Z" fill="#000"/>
<text class="t" font-size="37.2" textLength="23.50" lengthAdjust="spacingAndGlyphs" x="200.80" y="699.80">P</text>
<text class="t" font-size="32" textLength="103.50" lengthAdjust="spacingAndGlyphs" x="223.70" y="699.80">orosity</text>
<text class="s" font-size="35" textLength="18.50" lengthAdjust="spacingAndGlyphs" x="341.30" y="699.80">ε</text>
<text class="t" font-size="36" textLength="35.80" lengthAdjust="spacingAndGlyphs" x="371.30" y="699.80">(-)</text>
<text class="t" font-size="37.2" textLength="26.50" lengthAdjust="spacingAndGlyphs" transform="translate(29.20,517.00) rotate(-90)">C</text>
<text class="t" font-size="32" textLength="172.50" lengthAdjust="spacingAndGlyphs" transform="translate(29.20,491.00) rotate(-90)">onnectivity</text>
<text class="t" font-size="37.2" textLength="19.50" lengthAdjust="spacingAndGlyphs" transform="translate(29.20,307.00) rotate(-90)">F</text>
<text class="t" font-size="32" textLength="84.00" lengthAdjust="spacingAndGlyphs" transform="translate(29.20,288.50) rotate(-90)">actor</text>
<text class="s" font-size="35" textLength="26.50" lengthAdjust="spacingAndGlyphs" transform="translate(29.20,194.00) rotate(-90)">φ</text>
<text class="t" font-size="36" textLength="10.40" lengthAdjust="spacingAndGlyphs" transform="translate(29.20,156.40) rotate(-90)">(</text>
<text class="t" font-size="36" textLength="12.00" lengthAdjust="spacingAndGlyphs" transform="translate(29.20,144.10) rotate(-90)">-</text>
<text class="t" font-size="36" textLength="10.40" lengthAdjust="spacingAndGlyphs" transform="translate(29.20,130.20) rotate(-90)">)</text>
<g transform="translate(133.8,213.8) rotate(-24.82)">
<text class="t" font-size="18.6" x="0.00" y="0.00">I</text>
<text class="t" font-size="16.8" textLength="293.30" lengthAdjust="spacingAndGlyphs" x="6.00" y="0.00">nfinitely-disperse spherical particles</text>
</g>
</svg>
</body></html>
